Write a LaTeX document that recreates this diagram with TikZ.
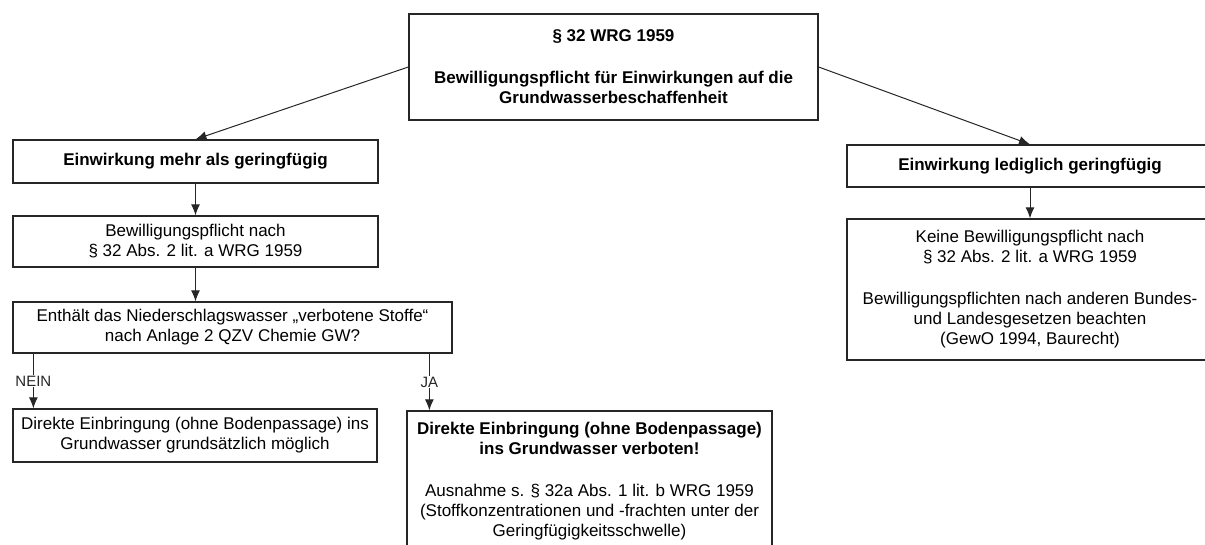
\documentclass[tikz,border=0pt]{standalone}
\usepackage{fontspec}
\setmainfont{Liberation Sans}
\usepackage{tikz}
\usetikzlibrary{shapes,arrows.meta}
\usetikzlibrary{positioning}
\tikzstyle{block} = [draw=black!85, rectangle, align=center, inner sep=0pt,
    line width=1.3pt, minimum width=365pt, font=\fontsize{17}{20}\selectfont]
\tikzstyle{link} = [-{Latex[length=11pt,width=9pt]}, line width=1pt, black!85]
\tikzstyle{answer} = [fill=white, inner sep=1pt, font=\fontsize{15}{18}\selectfont]

\begin{document}
\begin{tikzpicture}[x=1pt, y=-1pt, node distance = 80pt]
  \useasboundingbox (0,0) rectangle (1205,545);
  \node [block, minimum width=409pt, minimum height=106pt] (wrg) at (613.5,67)
  {\textbf{§ 32 WRG 1959}\\[22pt]\textbf{Bewilligungspflicht für Einwirkungen auf die}\\\textbf{Grundwasserbeschaffenheit}};
  \node [block, minimum height=43pt] (more) at (195.5,161.5)
  {\textbf{Einwirkung mehr als geringfügig}};
  \node [block, below of=more, minimum height=51pt] (perm)
  {Bewilligungspflicht nach\\§ 32 Abs. 2 lit. a WRG 1959};
  \node [block, below of=perm, node distance=86pt, xshift=37pt,
    minimum width=439pt, minimum height=51pt] (query)
  {Enthält das Niederschlagswasser „verbotene Stoffe“\\nach Anlage 2 QZV Chemie GW?};
  \node [block, minimum width=364pt, minimum height=53pt] (nein) at (195,435.5)
  {Direkte Einbringung (ohne Bodenpassage) ins\\Grundwasser grundsätzlich möglich};
  \node [block, minimum height=140pt] (ja) at (589.5,481)
  {\textbf{Direkte Einbringung (ohne Bodenpassage)}\\\textbf{ins Grundwasser verboten!}\\[22pt]Ausnahme s. § 32a Abs. 1 lit. b WRG 1959\\(Stoffkonzentrationen und -frachten unter der\\Geringfügigkeitsschwelle)};
  \node [block, minimum width=366pt, minimum height=42pt] (less) at (1030,166)
  {\textbf{Einwirkung lediglich geringfügig}};
  \node [block, below of=less, node distance=123.5pt, minimum width=366pt,
    minimum height=141pt] (noperm)
  {Keine Bewilligungspflicht nach\\§ 32 Abs. 2 lit. a WRG 1959\\[22pt]Bewilligungspflichten nach anderen Bundes-\\und Landesgesetzen beachten\\(GewO 1994, Baurecht)};
  \coordinate (neinin) at ([xshift=21pt]nein.north west);
  \coordinate (jain) at ([xshift=23pt]ja.north west);
  \draw [link] (wrg.west) -- (more.north);
  \draw [link] (wrg.east) -- (less.north);
  \draw [link] (more) -- (perm);
  \draw [link] (perm) -- (perm |- query.north);
  \draw [link] (neinin |- query.south) -- node [answer] {NEIN} (neinin);
  \draw [link] (jain |- query.south) -- node [answer] {JA} (jain);
  \draw [link] (less) -- (noperm);
\end{tikzpicture}
\end{document}
